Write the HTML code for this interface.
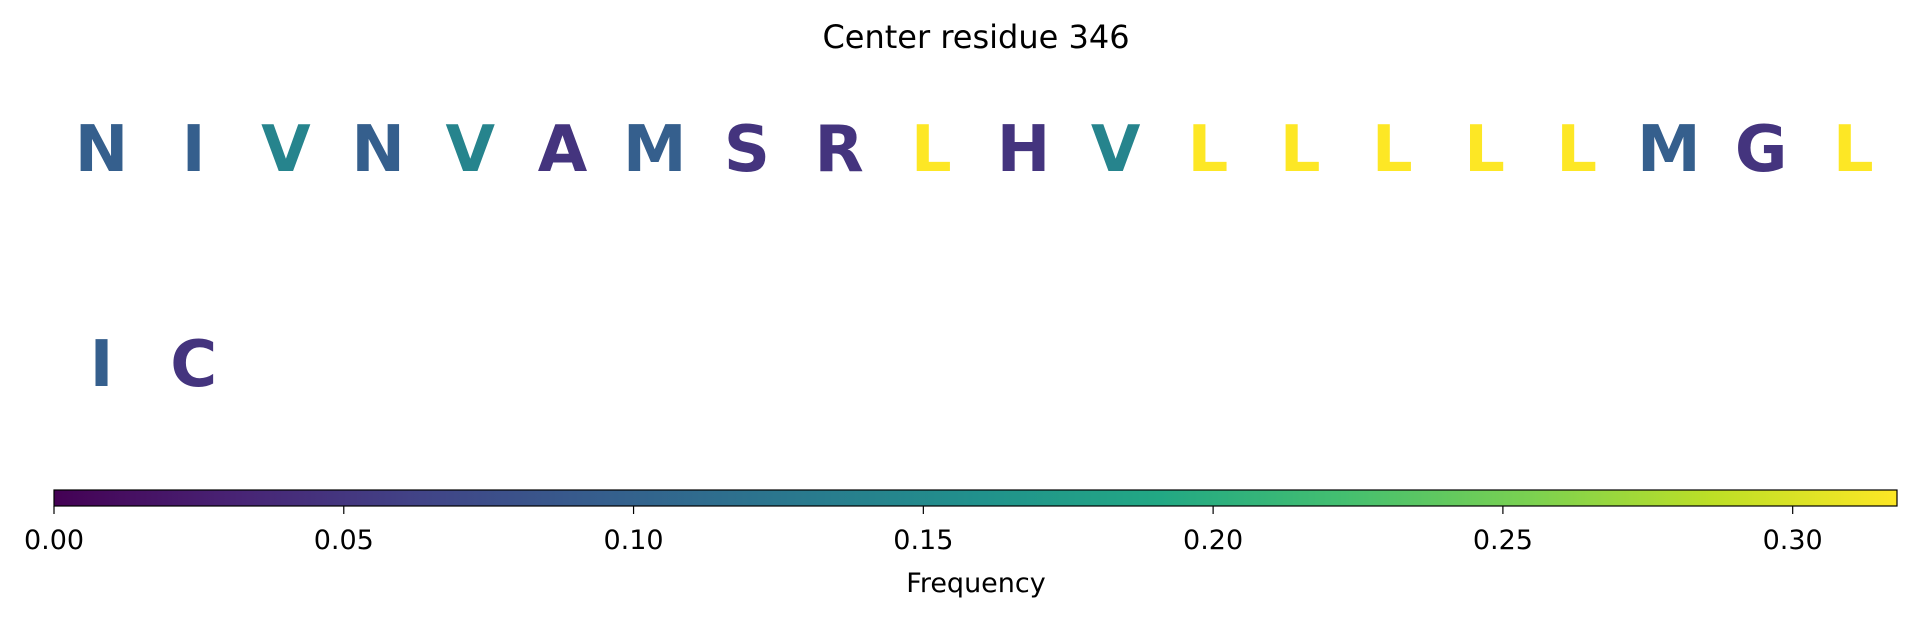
<!DOCTYPE html>
<html><head><meta charset="utf-8"><style>
html,body{margin:0;padding:0;background:#fff;}
svg{display:block;font-family:"DejaVu Sans","Liberation Sans",sans-serif;}
</style></head><body>
<svg id="chart" width="1917" height="619" viewBox="0 0 1917 619">
<text x="976" y="48" font-size="32" text-anchor="middle" fill="#000">Center residue 346</text>
<defs><linearGradient id="vir" x1="0" x2="1" y1="0" y2="0"></linearGradient></defs>
<g id="letters"></g>
<g id="cbar"></g>
<text x="976" y="592" font-size="27" text-anchor="middle" fill="#000">Frequency</text>
</svg>
<script>
const row1Letters = ["N","I","V","N","V","A","M","S","R","L","H","V","L","L","L","L","L","M","G","L"];
const row1Freq = [0.095,0.095,0.143,0.095,0.143,0.048,0.095,0.048,0.048,0.318,0.048,0.143,0.318,0.318,0.318,0.318,0.318,0.095,0.048,0.318];
const row2Letters = ["I","C"];
const row2Freq = [0.095,0.048];
const cbarTicks = [0,0.05,0.10,0.15,0.20,0.25,0.30];
const vmax = 0.318;

const vstops=["#440154","#482475","#414487","#355f8d","#2a788e","#21918c","#22a884","#44bf70","#7ad151","#bddf26","#fde725"];
function hex(c){return [parseInt(c.slice(1,3),16),parseInt(c.slice(3,5),16),parseInt(c.slice(5,7),16)];}
function viridis(t){t=Math.max(0,Math.min(1,t));const p=t*10,i=Math.min(9,Math.floor(p)),f=p-i;const a=hex(vstops[i]),b=hex(vstops[i+1]);
return "rgb("+a.map((v,k)=>Math.round(v+(b[k]-v)*f)).join(",")+")";}
const NS="http://www.w3.org/2000/svg";
const colX=i=>101.5+i*92.2;
const cbX0=54,cbX1=1897;
const cbx=v=>cbX0+(v/vmax)*(cbX1-cbX0);

const grad=document.getElementById("vir");
vstops.forEach((c,i)=>{const s=document.createElementNS(NS,"stop");s.setAttribute("offset",(i*10)+"%");s.setAttribute("stop-color",c);grad.appendChild(s);});

const lg=document.getElementById("letters");
function drawRow(letters,freqs,baseY,row){
letters.forEach((l,i)=>{const t=document.createElementNS(NS,"text");
t.setAttribute("x",colX(i));t.setAttribute("y",baseY);t.setAttribute("text-anchor","middle");
t.setAttribute("font-size","64");t.setAttribute("font-weight","bold");t.setAttribute("fill",viridis(freqs[i]/vmax));


t.textContent=l;lg.appendChild(t);});}
drawRow(row1Letters,row1Freq,171,"row1");
drawRow(row2Letters,row2Freq,386,"row2");

const cb=document.getElementById("cbar");
const r=document.createElementNS(NS,"rect");
r.setAttribute("x",cbX0);r.setAttribute("y",490);r.setAttribute("width",cbX1-cbX0);r.setAttribute("height",16);
r.setAttribute("fill","url(#vir)");r.setAttribute("stroke","#000");r.setAttribute("stroke-width","1.2");


cb.appendChild(r);
cbarTicks.forEach(v=>{const x=cbx(v);
const ln=document.createElementNS(NS,"line");ln.setAttribute("x1",x);ln.setAttribute("x2",x);ln.setAttribute("y1",506);ln.setAttribute("y2",514);ln.setAttribute("stroke","#000");ln.setAttribute("stroke-width","1.2");


cb.appendChild(ln);
const t=document.createElementNS(NS,"text");t.setAttribute("x",x);t.setAttribute("y",549);t.setAttribute("text-anchor","middle");t.setAttribute("font-size","27");


t.textContent=v.toFixed(2);cb.appendChild(t);});
</script>
</body></html>
